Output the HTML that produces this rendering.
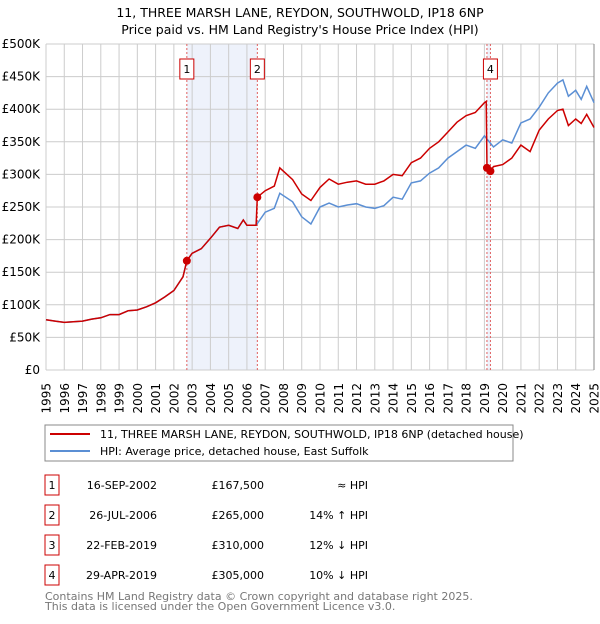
<!DOCTYPE html>
<html><head><meta charset="utf-8"><style>
body{margin:0;background:#fff;font-family:"DejaVu Sans","Liberation Sans",sans-serif;}
svg text{font-family:"DejaVu Sans","Liberation Sans",sans-serif;}
</style></head><body>
<svg id="chart" width="600" height="620" xmlns="http://www.w3.org/2000/svg">
<text x="300" y="17" text-anchor="middle" font-size="12.5">11, THREE MARSH LANE, REYDON, SOUTHWOLD, IP18 6NP</text>
<text x="300" y="34" text-anchor="middle" font-size="12.5">Price paid vs. HM Land Registry's House Price Index (HPI)</text>
<g id="plot"></g>
<rect x="45" y="425" width="468" height="36" fill="none" stroke="#888"/>
<line x1="50" y1="434" x2="90" y2="434" stroke="#cc0000" stroke-width="2"/>
<text x="100" y="438" font-size="11">11, THREE MARSH LANE, REYDON, SOUTHWOLD, IP18 6NP (detached house)</text>
<line x1="50" y1="451" x2="90" y2="451" stroke="#5b8fd4" stroke-width="2"/>
<text x="100" y="455" font-size="11">HPI: Average price, detached house, East Suffolk</text>
<g id="table" font-size="11"></g>
<text x="45" y="600" font-size="11" fill="#777">Contains HM Land Registry data © Crown copyright and database right 2025.</text>
<text x="45" y="610" font-size="11" fill="#777">This data is licensed under the Open Government Licence v3.0.</text>
</svg>
<script>
const hpiYears=[1995,1995.5,1996,1996.5,1997,1997.5,1998,1998.5,1999,1999.5,2000,2000.5,2001,2001.5,2002,2002.5,2002.71,2003,2003.5,2004,2004.5,2005,2005.5,2005.8,2006,2006.5,2007,2007.5,2007.8,2008.5,2009,2009.5,2010,2010.5,2011,2011.5,2012,2012.5,2013,2013.5,2014,2014.5,2015,2015.5,2016,2016.5,2017,2017.5,2018,2018.5,2019,2019.5,2020,2020.5,2021,2021.5,2022,2022.5,2023,2023.3,2023.6,2024,2024.3,2024.6,2025];
const hpiValues=[77,75,73,74,75,78,80,85,85,91,92,97,103,112,122,143,167,179,186,202,219,222,217,230,222,222,242,248,271,258,235,224,250,256,250,253,255,250,248,252,265,262,287,290,302,310,325,335,345,340,359,342,353,348,379,385,403,425,440,445,420,429,415,435,410];
const propYears=[1995,1995.5,1996,1996.5,1997,1997.5,1998,1998.5,1999,1999.5,2000,2000.5,2001,2001.5,2002,2002.5,2002.71,2003,2003.5,2004,2004.5,2005,2005.5,2005.8,2006,2006.5,2006.57,2007,2007.5,2007.8,2008.5,2009,2009.5,2010,2010.5,2011,2011.5,2012,2012.5,2013,2013.5,2014,2014.5,2015,2015.5,2016,2016.5,2017,2017.5,2018,2018.5,2019,2019.1,2019.14,2019.33,2019.5,2020,2020.5,2021,2021.5,2022,2022.5,2023,2023.3,2023.6,2024,2024.3,2024.6,2025];
const propValues=[77,75,73,74,75,78,80,85,85,91,92,97,103,112,122,143,167.5,179,186,202,219,222,217,230,222,222,265,275,282,310,292,270,260,280,293,285,288,290,285,285,290,300,298,318,325,340,350,365,380,390,395,410,412,310,305,312,315,325,345,335,368,385,398,400,375,385,378,392,372];
const saleYears=[2002.71,2006.57,2019.14,2019.33];
const saleValues=[167.5,265,310,305];
const saleLabels=["1","2","3","4"];
const saleDates=["16-SEP-2002","26-JUL-2006","22-FEB-2019","29-APR-2019"];
const salePrices=["£167,500","£265,000","£310,000","£305,000"];
const saleHpi=["≈ HPI","14% ↑ HPI","12% ↓ HPI","10% ↓ HPI"];
const yTicks=[0,50,100,150,200,250,300,350,400,450,500];
const yTickLabels=["£0","£50K","£100K","£150K","£200K","£250K","£300K","£350K","£400K","£450K","£500K"];
const xTicks=[1995,1996,1997,1998,1999,2000,2001,2002,2003,2004,2005,2006,2007,2008,2009,2010,2011,2012,2013,2014,2015,2016,2017,2018,2019,2020,2021,2022,2023,2024,2025];

const L=46,R=594,T=44,B=370;
const X=y=>L+(y-1995)/30*(R-L);
const Y=v=>B-v/500*(B-T);
const NS="http://www.w3.org/2000/svg";
const g=document.getElementById('plot');
function mk(tag,attrs,parent){const e=document.createElementNS(NS,tag);for(const k in attrs)e.setAttribute(k,attrs[k]);(parent||g).appendChild(e);return e;}

const sh1=mk('rect',{x:X(saleYears[0]),y:T,width:X(saleYears[1])-X(saleYears[0]),height:B-T,fill:'#eef2fb'});


const sh2=mk('rect',{x:X(saleYears[2]),y:T,width:X(saleYears[3])-X(saleYears[2]),height:B-T,fill:'#eef2fb'});



xTicks.forEach(t=>{
 const l=mk('line',{x1:X(t),x2:X(t),y1:T,y2:B,stroke:'#ccc','stroke-width':1});
 
 
 const tx=mk('text',{x:0,y:0,'text-anchor':'end','font-size':12,transform:'translate('+(X(t)+4.5)+','+(B+13)+') rotate(-90)'});
 tx.textContent=t;
 
 
});
yTicks.forEach((t,i)=>{
 const l=mk('line',{x1:L,x2:R,y1:Y(t),y2:Y(t),stroke:'#ccc','stroke-width':1});
 
 
 const tx=mk('text',{x:40,y:Y(t)+4,'text-anchor':'end','font-size':12});
 tx.textContent=yTickLabels[i];
 
 
});
const ax=mk('line',{x1:R,x2:R,y1:T,y2:B,stroke:'#888'});



saleYears.forEach((s,i)=>{
 const l=mk('line',{x1:X(s),x2:X(s),y1:T,y2:B,stroke:'#e06060','stroke-dasharray':'2,2','stroke-width':1});
 
 
});

const hp=mk('path',{d:hpiYears.map((y,i)=>(i?'L':'M')+X(y).toFixed(1)+','+Y(hpiValues[i]).toFixed(1)).join(''),fill:'none',stroke:'#5b8fd4','stroke-width':1.5});


const pp=mk('path',{d:propYears.map((y,i)=>(i?'L':'M')+X(y).toFixed(1)+','+Y(propValues[i]).toFixed(1)).join(''),fill:'none',stroke:'#cc0000','stroke-width':1.5});



saleYears.forEach((s,i)=>{
 const c=mk('circle',{cx:X(s),cy:Y(saleValues[i]),r:4,fill:'#cc0000'});
 
 
});
saleYears.forEach((s,i)=>{
 if(i===2)return;
 const bx=mk('rect',{x:X(s)-7,y:59,width:14,height:20,fill:'#fff',stroke:'#cc0000'});
 
 
 const tx=mk('text',{x:X(s),y:73,'text-anchor':'middle','font-size':11});
 tx.textContent=saleLabels[i];
 
 
});

const tb=document.getElementById('table');
saleLabels.forEach((lab,i)=>{
 const y0=475+i*30;
 const b=mk('rect',{x:45,y:y0,width:14,height:20,fill:'#fff',stroke:'#cc0000'},tb);
 
 
 const cells=[[52,lab,'middle'],[157,saleDates[i],'end'],[264,salePrices[i],'end'],[368,saleHpi[i],'end']];
 cells.forEach(c=>{
  const t=mk('text',{x:c[0],y:y0+14,'text-anchor':c[2]},tb);
  t.textContent=c[1];
  
  
 });
});
</script>
</body></html>
